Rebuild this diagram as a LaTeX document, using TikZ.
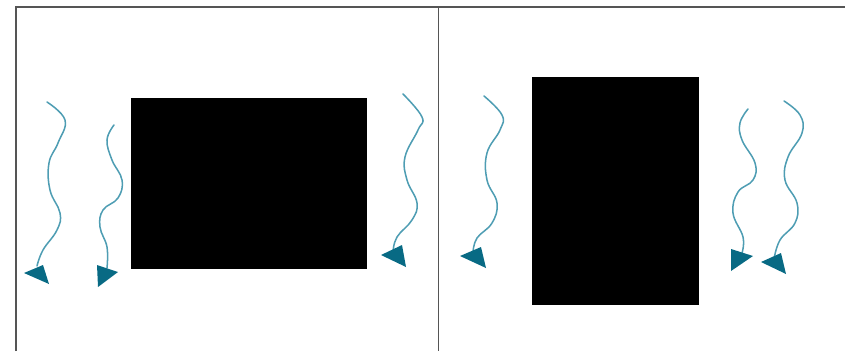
\documentclass[tikz,border=0pt]{standalone}
\usepackage{xcolor}
\usepackage{tikz}
\definecolor{wavelight}{HTML}{4E9DB3}
\definecolor{wavedark}{HTML}{086A84}
\definecolor{framegrey}{HTML}{555555}
\tikzset{
  framelines/.style={framegrey,line width=1.6pt},
  waveline/.style={wavelight,line width=1.3pt,line cap=round},
  wavehead/.style={wavedark},
}
\begin{document}
\begin{tikzpicture}[x=0.03cm,y=-0.03cm]
  \useasboundingbox (0,0) rectangle (845,351);
  % frame
  \draw[framelines] (16,351) -- (16,7) -- (845,7);
  \draw[framelines] (438.5,7) -- (438.5,351);
  % bodies
  \fill[black] (131,98) rectangle (367,269);
  \fill[black] (532,77) rectangle (699,305);
  % left panel
  \draw[waveline] plot[smooth,tension=0.7] coordinates {(47,102) (65,120) (58,143) (49,163) (50,190) (60,213) (57,230) (43,250) (37,266)};
  \fill[wavehead] (24,273) -- (49,284) -- (43,265) -- cycle;
  \draw[waveline] plot[smooth,tension=0.7] coordinates {(114,125) (107,140) (112,160) (122,180) (118,198) (103,210) (100,227) (107,247) (107,268)};
  \fill[wavehead] (97,265) -- (98,287) -- (118,272) -- cycle;
  \draw[waveline] plot[smooth,tension=0.7] coordinates {(403,94) (422,117) (418,130) (405,157) (407,180) (417,203) (412,220) (397,237) (393,252)};
  \fill[wavehead] (381,255) -- (406,267) -- (402,245) -- cycle;
  % right panel
  \draw[waveline] plot[smooth,tension=0.7] coordinates {(484,96) (502,115) (500,130) (487,153) (487,180) (497,203) (492,223) (477,238) (473,252)};
  \fill[wavehead] (460,256) -- (486,268) -- (481,247) -- cycle;
  \draw[waveline] plot[smooth,tension=0.7] coordinates {(748,109) (740,123) (742,140) (755,163) (753,180) (738,192) (733,213) (743,237) (742,253)};
  \fill[wavehead] (731,249) -- (731,271) -- (753,256) -- cycle;
  \draw[waveline] plot[smooth,tension=0.7] coordinates {(784,101) (800,115) (802,133) (788,157) (785,180) (797,203) (795,223) (780,240) (774,259)};
  \fill[wavehead] (761,262) -- (786,274) -- (781,253) -- cycle;
\end{tikzpicture}
\end{document}
